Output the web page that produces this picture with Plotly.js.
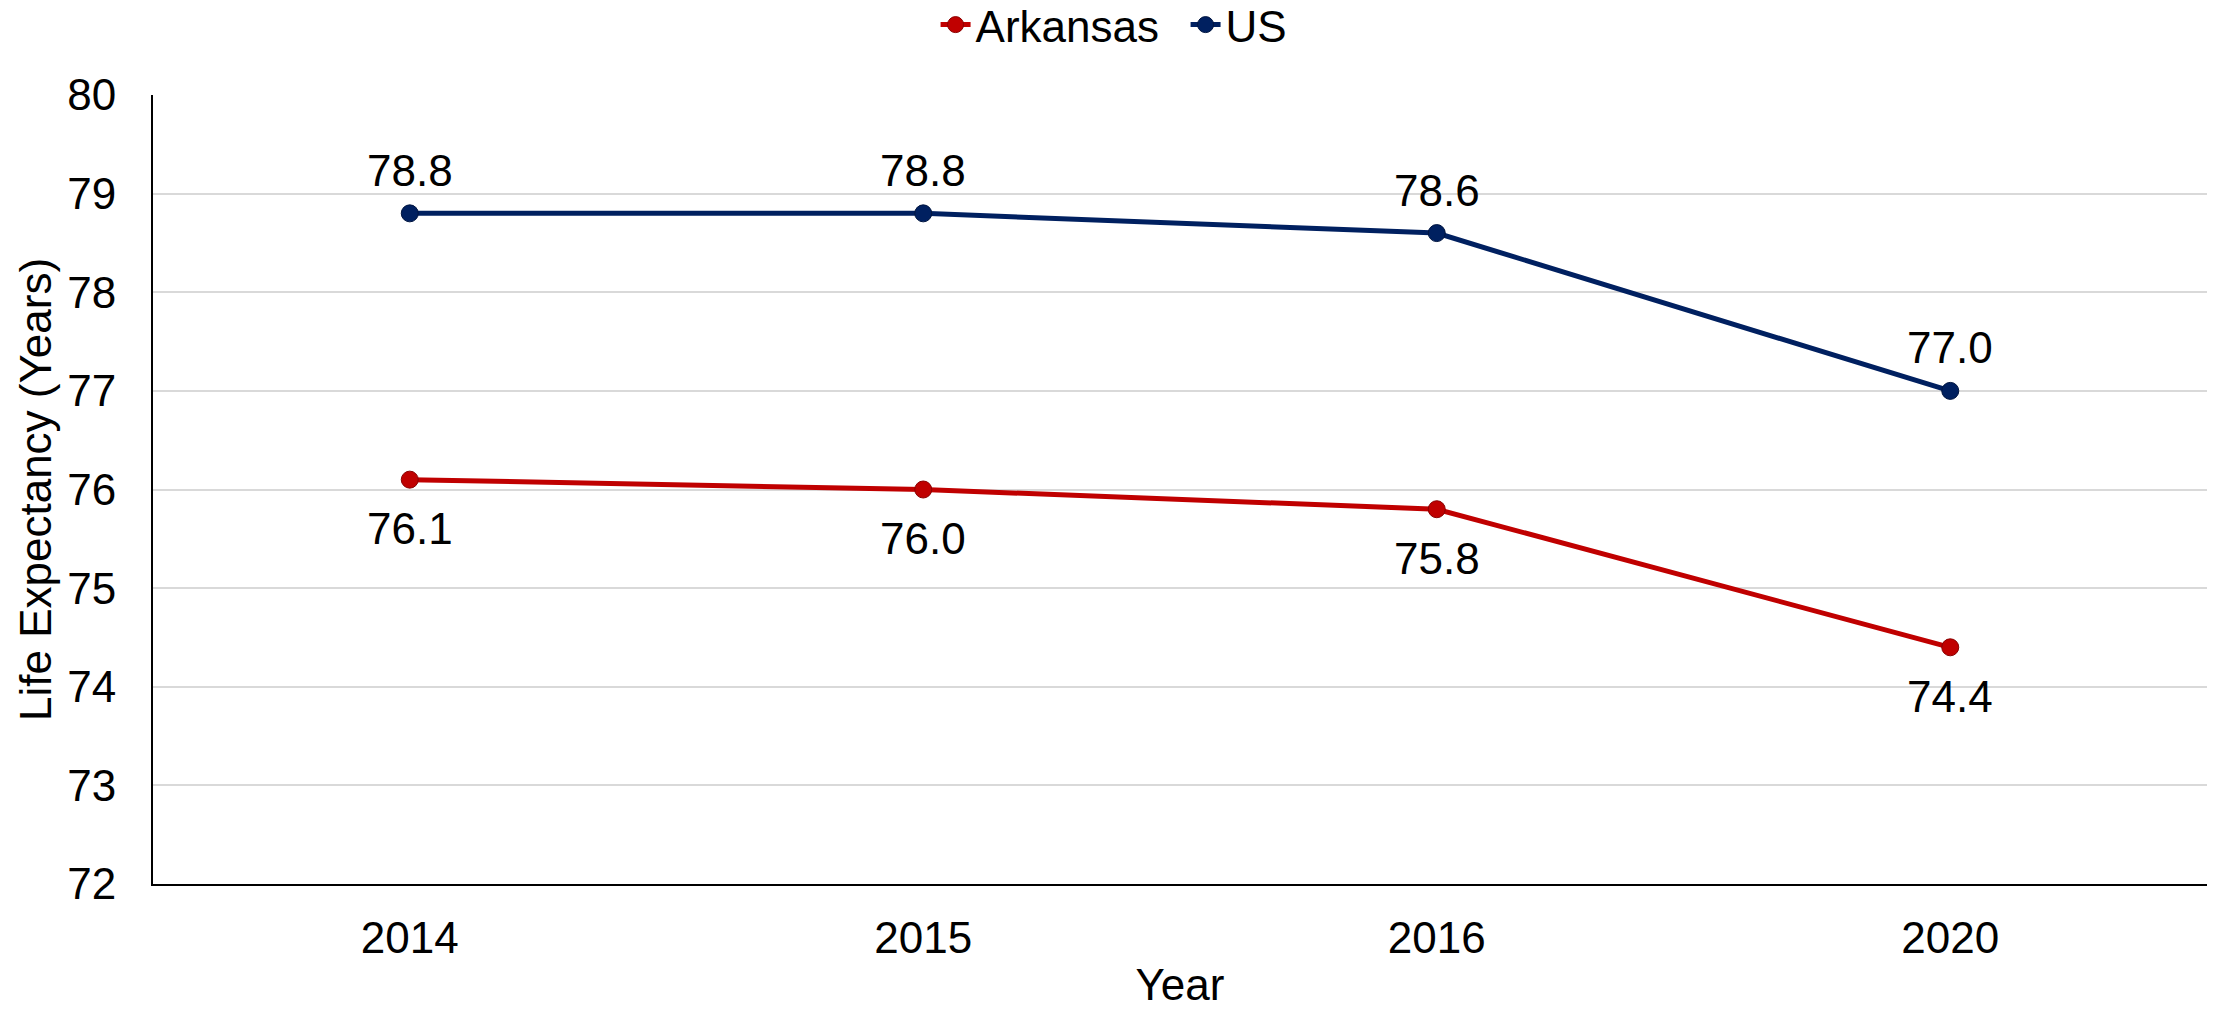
<!DOCTYPE html>
<html>
<head>
<meta charset="utf-8">
<script src="https://cdn.plot.ly/plotly-3.0.1.min.js"></script>
<style>html,body{margin:0;padding:0;background:#fff;}#chart{width:2214px;height:1009px;}</style>
</head>
<body>
<div id="chart"></div>
<script>
const years = ["2014", "2015", "2016", "2020"];
const arkansas = [76.1, 76.0, 75.8, 74.4];
const us = [78.8, 78.8, 78.6, 77.0];
const yTicks = [72, 73, 74, 75, 76, 77, 78, 79, 80];

const font = "Liberation Sans, Arial, sans-serif";
const FS = 44;

const traces = [
  {
    x: years, y: arkansas, name: "Arkansas", type: "scatter", mode: "lines+markers",
    line: {color: "#c00000", width: 5},
    marker: {color: "#c00000", size: 17, line: {color: "#8a0000", width: 1}}
  },
  {
    x: years, y: us, name: "US", type: "scatter", mode: "lines+markers",
    line: {color: "#002060", width: 5},
    marker: {color: "#002060", size: 17, line: {color: "#001540", width: 1}}
  }
];

// category axis: annotation x given as category index
const annotations = [];
years.forEach((yr, i) => {
  annotations.push({x: i, y: us[i], xref: "x", yref: "y", text: us[i].toFixed(1),
    showarrow: false, yanchor: "middle", xanchor: "center", yshift: 43,
    font: {family: font, size: FS, color: "#000"}});
  annotations.push({x: i, y: arkansas[i], xref: "x", yref: "y", text: arkansas[i].toFixed(1),
    showarrow: false, yanchor: "middle", xanchor: "center", yshift: -49,
    font: {family: font, size: FS, color: "#000"}});
});

const layout = {
  width: 2214, height: 1009,
  margin: {l: 153, r: 7, t: 95, b: 125, autoexpand: false},
  paper_bgcolor: "#fff", plot_bgcolor: "#fff",
  font: {family: font, size: FS, color: "#000"},
  showlegend: true,
  legend: {orientation: "h", x: 0.381, xanchor: "left", y: 1.0887, yanchor: "middle",
           font: {family: font, size: FS, color: "#000"}, entrywidth: 205, entrywidthmode: "pixels",
           bgcolor: "rgba(0,0,0,0)"},
  annotations: annotations,
  xaxis: {
    type: "category", range: [-0.5, 3.5], automargin: false,
    showline: true, linecolor: "#000", linewidth: 2,
    showgrid: false, zeroline: false, ticks: "",
    tickfont: {family: font, size: FS, color: "#000"}, ticklabelstandoff: 14,
    title: {text: "Year", font: {family: font, size: FS, color: "#000"}, standoff: 19}
  },
  yaxis: {
    range: [72, 80], tickvals: yTicks, ticktext: yTicks.map(String), automargin: false,
    showline: true, linecolor: "#000", linewidth: 2,
    showgrid: true, gridcolor: "#d9d9d9", gridwidth: 2, zeroline: false, ticks: "",
    tickfont: {family: font, size: FS, color: "#000"}, ticklabelstandoff: 26,
    title: {text: "Life Expectancy (Years)", font: {family: font, size: FS, color: "#000"}, standoff: 2}
  }
};

Plotly.newPlot("chart", traces, layout, {displayModeBar: false, staticPlot: true});
</script>
</body>
</html>
